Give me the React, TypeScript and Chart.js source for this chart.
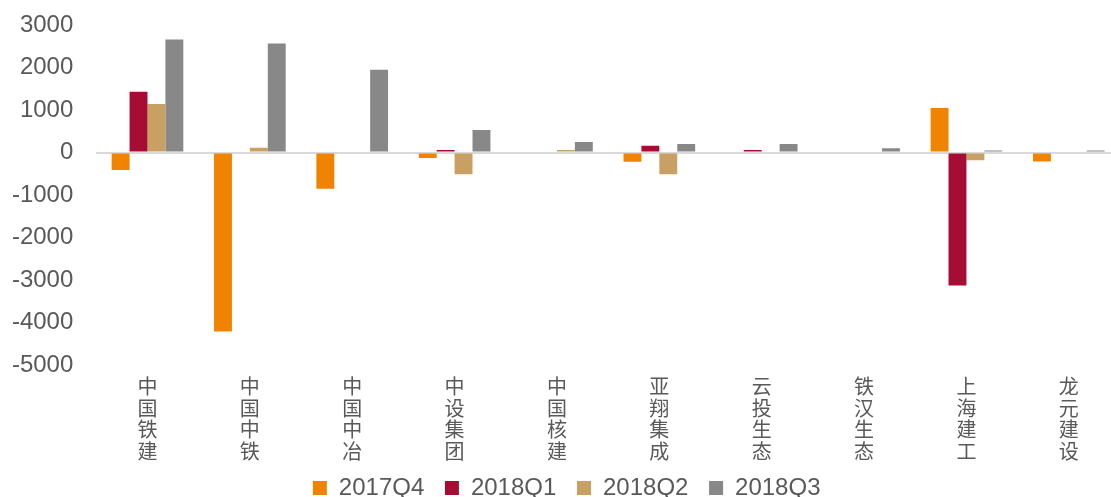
import { useEffect, useRef } from "react";
import { Chart, registerables } from "chart.js";

Chart.register(...registerables);

const categories = ["中国铁建", "中国中铁", "中国中冶", "中设集团", "中国核建", "亚翔集成", "云投生态", "铁汉生态", "上海建工", "龙元建设"];
const seriesNames = ["2017Q4", "2018Q1", "2018Q2", "2018Q3"];
const q4_2017 = [-410, -4210, -850, -130, null, -220, null, null, 1050, -210];
const q1_2018 = [1430, null, null, 60, null, 160, 60, null, -3130, null];
const q2_2018 = [1140, 110, null, -510, 60, -510, null, null, -180, null];
const q3_2018 = [2660, 2565, 1950, 530, 250, 200, 200, 100, 50, 50];
const seriesColors = ["#F08400", "#A50D34", "#C9A063", "#888888"];
const yTicks = [3000, 2000, 1000, 0, -1000, -2000, -3000, -4000, -5000];

const CANVAS_W = 1150;
const CANVAS_H = 510;

export default function App() {
  const canvasRef = useRef<HTMLCanvasElement | null>(null);

  useEffect(() => {
    const canvas = canvasRef.current;
    if (!canvas) return;
    const values = [q4_2017, q1_2018, q2_2018, q3_2018];
    const chart = new Chart(canvas, {
      type: "bar",
      data: {
        labels: categories.map((c) => c.split("")),
        datasets: seriesNames.map((name, i) => ({
          label: name + " ",
          data: values[i],
          backgroundColor: seriesColors[i],
          borderWidth: 0,
          categoryPercentage: 0.7,
          barPercentage: 1.0,
          yAxisID: "y",
        })),
      },
      options: {
        responsive: false,
        animation: false,
        events: [],
        layout: { padding: { left: 0, right: 10, top: 25, bottom: 0 } },
        plugins: {
          tooltip: { enabled: false },
          legend: {
            position: "bottom",
            labels: {
              boxWidth: 14,
              boxHeight: 14,
              padding: 14,
              color: "#595959",
              font: { family: "'Liberation Sans', Arial, sans-serif", size: 24 },
            },
          },
        },
        scales: {
          x: {
            grid: { display: false, drawTicks: false },
            border: { display: false },
            ticks: {
              maxRotation: 0,
              minRotation: 0,
              autoSkip: false,
              padding: 11,
              color: "#595959",
              font: { family: "'Noto Sans CJK SC', sans-serif", size: 20, lineHeight: 1.075 },
            },
            afterFit: (scale: any) => {
              scale.height = 97;
            },
          },
          y: {
            min: -5000,
            max: 3000,
            afterBuildTicks: (scale: any) => {
              scale.ticks = yTicks.map((v) => ({ value: v }));
            },
            grid: {
              drawTicks: true,
              tickLength: 23,
              tickColor: "rgba(0,0,0,0)",
              color: (ctx: any) => (ctx.tick && ctx.tick.value === 0 ? "#D9D9D9" : "rgba(0,0,0,0)"),
              lineWidth: 2,
            },
            border: { display: false },
            ticks: {
              padding: 0,
              color: "#595959",
              font: { family: "'Liberation Sans', Arial, sans-serif", size: 24 },
              callback: (v: any) => String(v),
            },
            afterFit: (scale: any) => {
              scale.width = 96.3;
            },
          },
          yRight: {
            type: "linear",
            position: "right",
            display: true,
            grid: { display: false, drawTicks: false },
            border: { display: false },
            ticks: { display: false },
            afterFit: (scale: any) => {
              scale.width = 20;
            },
          },
        },
      },
    });
    return () => chart.destroy();
  }, []);

  return (
    <div
      style={{
        position: "absolute",
        left: 0,
        top: 0,
        width: 1111,
        height: 497,
        overflow: "hidden",
        background: "#ffffff",
      }}
    >
      <canvas ref={canvasRef} width={CANVAS_W} height={CANVAS_H} style={{ display: "block" }} />
    </div>
  );
}
